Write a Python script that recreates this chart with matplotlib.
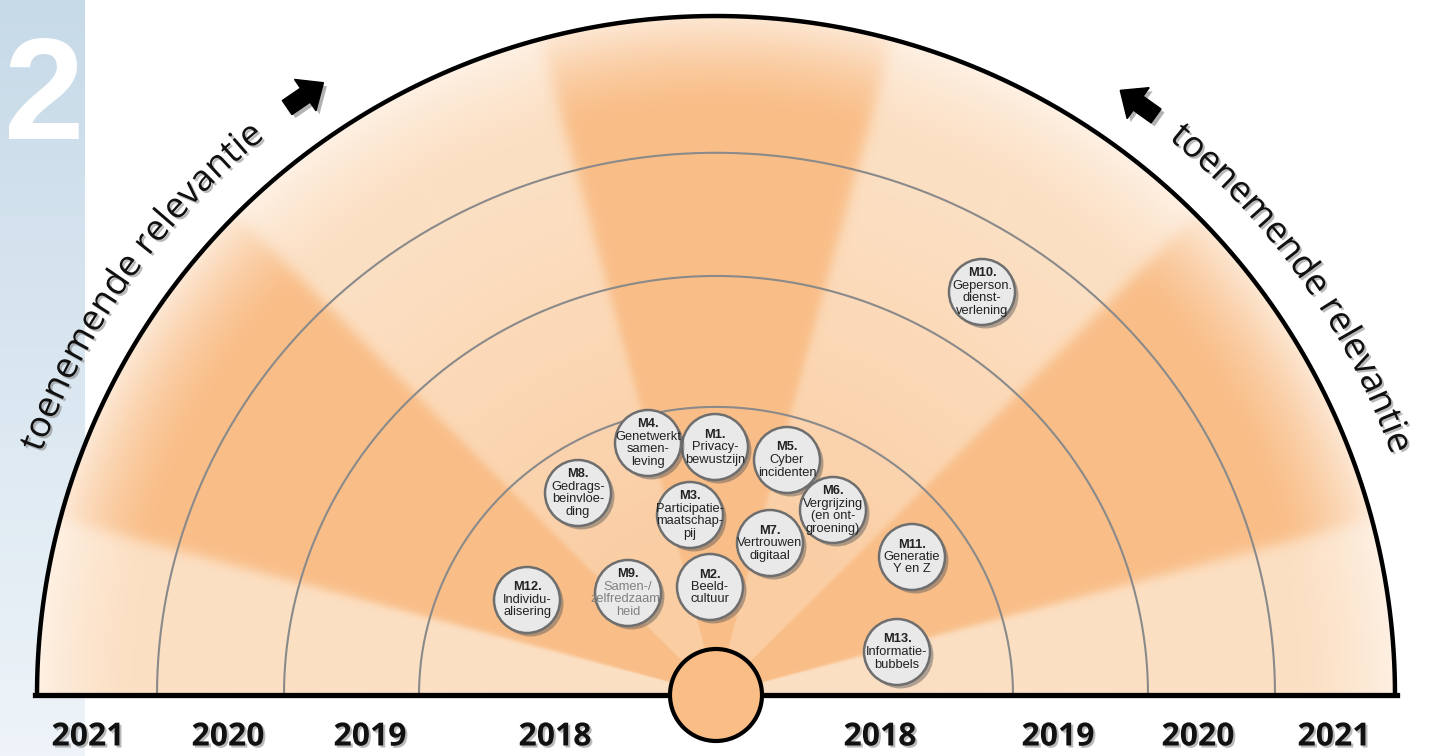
import numpy as np
import matplotlib
matplotlib.use("Agg")
import matplotlib.pyplot as plt
import matplotlib.patches as mpatches
import matplotlib.patheffects as pe
from matplotlib import font_manager
from matplotlib.ft2font import FT2Font

# Data
year_labels = ["2021", "2020", "2019", "2018", "2018", "2019", "2020", "2021"]
year_x = [-628, -488, -346, -161, 164, 342, 482, 618]

ring_radii = [297, 432, 559]
outer_radius = 679

item_ids = ["M1.", "M2.", "M3.", "M4.", "M5.", "M6.", "M7.",
            "M8.", "M9.", "M10.", "M11.", "M12.", "M13."]
item_texts = [
    "Privacy-\nbewustzijn",
    "Beeld-\ncultuur",
    "Participatie-\nmaatschap-\npij",
    "Genetwerkt\nsamen-\nleving",
    "Cyber\nincidenten",
    "Vergrijzing\n(en ont-\ngroening)",
    "Vertrouwen\ndigitaal",
    "Gedrags-\nbeinvloe-\nding",
    "Samen-/\nzelfredzaam-\nheid",
    "Geperson.\ndienst-\nverlening",
    "Generatie\nY en Z",
    "Individu-\nalisering",
    "Informatie-\nbubbels",
]
item_x = [-1, -6, -26, -68, 71, 117, 54, -138, -88, 266, 196, -189, 181]
item_y = [248, 108, 180, 252, 235, 185, 152, 202, 102, 403, 138, 95, 43]

axis_text = "toenemende relevantie"

# Fonts
names = {f.name for f in font_manager.fontManager.ttflist}
narrow = "Liberation Sans Narrow" if "Liberation Sans Narrow" in names else "Liberation Sans"
label_font = "Open Sans" if "Open Sans" in names else "DejaVu Sans"

fig = plt.figure(figsize=(14.3, 7.56), dpi=100)
ax = fig.add_axes([0, 0, 1, 1])
ax.set_xlim(-716, 714)
ax.set_ylim(-61, 695)
ax.axis("off")

# Left blue strip
strip = np.linspace(0, 1, 200)[:, None]
top_c = np.array([199, 218, 232]) / 255
bot_c = np.array([238, 244, 249]) / 255
strip_img = (top_c * (1 - strip[..., None]) + bot_c * strip[..., None])
ax.imshow(strip_img, extent=[-716, -631, -61, 695], origin="upper",
          aspect="auto", zorder=0)
ax.text(-672, 556, "2", fontsize=104, color="white", fontweight="bold",
        family=narrow, ha="center", va="baseline", zorder=1)

# Fan background with wedges
xs = np.arange(-outer_radius, outer_radius + 1)
ys = np.arange(0, outer_radius + 1)
X, Y = np.meshgrid(xs, ys)
R = np.hypot(X, Y)
T = np.degrees(np.arctan2(Y, X))


def sig(v):
    return 1 / (1 + np.exp(-v))


def band(a, b):
    return sig((T - a) / 0.4) * sig((b - T) / 0.4)


dark_w = band(15, 45) + band(75, 105) + band(135, 165)
mid_light = band(45, 75) + band(105, 135)
dark = np.array([249, 190, 136]) / 255
light = np.array([252, 224, 196]) / 255
edge_white = np.array([254, 246, 238]) / 255
k = (mid_light * 0.55 * (1 - np.clip((R - 150) / 400, 0, 1)))[..., None]
light_eff = light * (1 - k) + dark * k
col = dark * dark_w[..., None] + light_eff * (1 - dark_w[..., None])
f = (np.clip((R - 585) / 94, 0, 1) ** 1.5 * 0.75)[..., None]
col = col * (1 - f) + edge_white * f
img = np.dstack([col, (R <= outer_radius).astype(float)])
ax.imshow(img, extent=[-outer_radius - 0.5, outer_radius + 0.5, -0.5, outer_radius + 0.5],
          origin="lower", zorder=0, interpolation="bilinear")

# Rings
t = np.linspace(0, np.pi, 400)
for r in ring_radii:
    ax.plot(r * np.cos(t), 0.97 * r * np.sin(t), color="#8a8a8a", lw=1.5, zorder=2)
ax.plot(outer_radius * np.cos(t), outer_radius * np.sin(t), color="black", lw=3.2,
        zorder=3, solid_capstyle="butt")
ax.plot([-outer_radius - 2, outer_radius + 2], [0, 0], color="black", lw=3.8, zorder=3)
ax.add_patch(mpatches.Circle((0, 0), 46, fc="#F9BD85", ec="black", lw=3, zorder=4))

# Bubbles
shadow = [pe.SimplePatchShadow(offset=(2.5, -2.5), shadow_rgbFace="#555555", alpha=0.45),
          pe.Normal()]
lh = 12.5
for i in range(len(item_ids)):
    x, y = item_x[i], item_y[i]
    ax.add_patch(mpatches.Circle((x, y), 33, fc="#e9e9e9", ec="#6e6e6e", lw=1.8,
                                 zorder=5, path_effects=shadow))
    lines = [item_ids[i]] + item_texts[i].split("\n")
    n = len(lines)
    tc = "#808080" if item_ids[i] == "M9." else "#222222"
    for j, s in enumerate(lines):
        yy = y + ((n - 1) / 2 - j) * lh
        ax.text(x, yy, s, ha="center", va="center", fontsize=9.3, family=narrow,
                color="#222222" if j == 0 else tc,
                fontweight="bold" if j == 0 else "normal", zorder=6)

# Year labels
txt_shadow = [pe.SimplePatchShadow(offset=(1.5, -1.5), shadow_rgbFace="#777777", alpha=0.5),
              pe.Normal()]
for xv, lab in zip(year_x, year_labels):
    ax.text(xv, -42, lab, ha="center", va="center", fontsize=23, fontweight="bold",
            family=label_font, color="#111111", path_effects=txt_shadow)


# Curved text along the outer arc
def arc_text(text, theta_mid, radius, size_pt):
    fp = font_manager.FontProperties(family=label_font, size=size_pt)
    font = FT2Font(font_manager.findfont(fp))
    font.set_size(size_pt, 100)
    adv = np.array([font.load_char(ord(c)).linearHoriAdvance / 65536 for c in text])
    pos = np.cumsum(adv) - adv / 2 - adv.sum() / 2
    for c, s in zip(text, pos):
        th = np.radians(theta_mid) - s / radius
        ax.text(radius * np.cos(th), radius * np.sin(th), c, fontsize=size_pt,
                family=label_font, color="#111111", rotation=np.degrees(th) - 90,
                rotation_mode="anchor", ha="center", va="baseline",
                path_effects=txt_shadow)


arc_text(axis_text, 144.6, 717, 26)
arc_text(axis_text, 35.2, 717, 26)


# Arrows
def arc_arrow(theta, radius, sign):
    th = np.radians(theta)
    cx, cy = radius * np.cos(th), radius * np.sin(th)
    d = np.array([np.sin(th), -np.cos(th)]) * sign
    L = 44
    ax.add_patch(mpatches.FancyArrow(cx - d[0] * L / 2, cy - d[1] * L / 2, d[0] * L, d[1] * L,
                                     width=17, head_width=38, head_length=22,
                                     length_includes_head=True, color="black",
                                     path_effects=shadow))


arc_arrow(124.4, 727, 1)
arc_arrow(54.5, 727, -1)

fig.savefig("out.png", dpi=100)
